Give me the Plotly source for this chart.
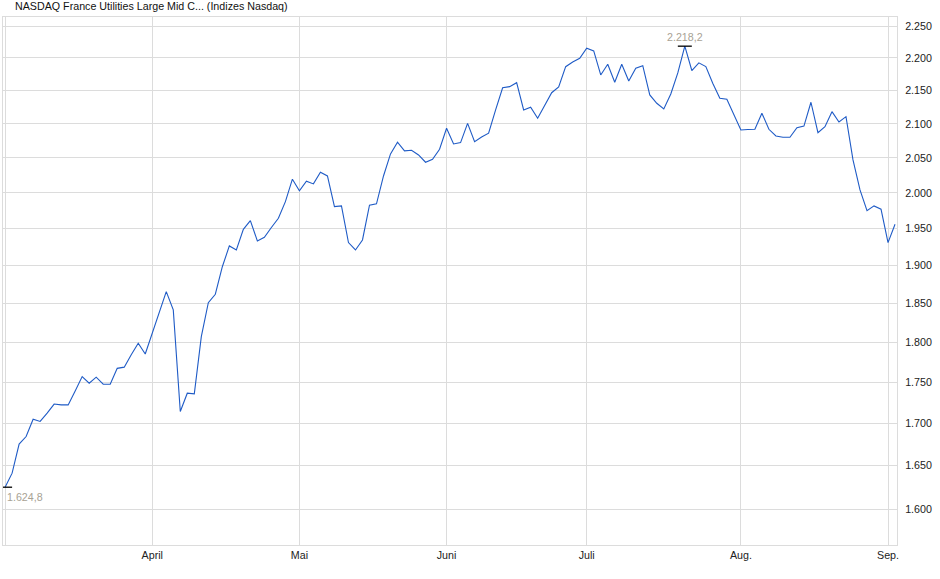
import math
import pandas as pd
import plotly.graph_objects as go

# ---- data -------------------------------------------------------------
holidays = ["2025-04-18", "2025-05-26", "2025-06-19", "2025-07-04", "2025-09-01"]
dates = [d.strftime("%Y-%m-%d") for d in
         pd.bdate_range("2025-03-03", "2025-09-03", freq="C", holidays=holidays)]

values = [
    1624.8, 1641, 1675, 1684, 1704.6, 1702, 1712, 1723, 1722, 1722,
    1739, 1756.8, 1748.5, 1756, 1747.3, 1747.3, 1767, 1768.5, 1784, 1798.5,
    1785, 1811.7, 1838.8, 1865.3, 1841.4, 1713.9, 1736.3, 1735.4, 1807, 1850.8,
    1861.9, 1898.4, 1926.5, 1921, 1949.2, 1961.2, 1933.3, 1938.3, 1951.7, 1964.5,
    1987.7, 2019.4, 2003, 2016.6, 2012.7, 2029.4, 2024, 1980.7, 1981.7, 1931,
    1921, 1934.6, 1982.7, 1984.5, 2024, 2055.7, 2072.8, 2060.1, 2061, 2054.2,
    2043.7, 2048, 2062.6, 2093.3, 2070.3, 2072.2, 2100.6, 2073.7, 2080.5, 2086,
    2120.6, 2154.1, 2155.7, 2161.8, 2120.6, 2124.6, 2108.1, 2128, 2146.5, 2155.2,
    2186.3, 2193.6, 2199.2, 2214.9, 2210.7, 2173.6, 2190, 2162.4, 2190, 2164.4,
    2183.9, 2187.9, 2143.1, 2130.6, 2122.1, 2144.6, 2176.7, 2218.2, 2180.4, 2192.2,
    2186.5, 2160.6, 2138.1, 2136.6, 2113.1, 2090.8, 2091.5, 2091.8, 2115.6, 2091.8,
    2082, 2080.1, 2080.1, 2094.2, 2096.6, 2132.1, 2086.8, 2095.6, 2118, 2102.6,
    2110.5, 2047, 2004.1, 1975.1, 1981.7, 1977, 1931, 1956.1,
]

month_ticks = ["2025-04-01", "2025-05-01", "2025-06-02", "2025-07-01", "2025-08-01", "2025-09-02"]
month_labels = ["April", "Mai", "Juni", "Juli", "Aug.", "Sep."]
y_ticks = [1600, 1650, 1700, 1750, 1800, 1850, 1900, 1950, 2000, 2050, 2100, 2150, 2200, 2250]

title_text = "NASDAQ France Utilities Large Mid C... (Indizes Nasdaq)"

# ---- figure -----------------------------------------------------------
FONT = "Liberation Sans, Arial, sans-serif"
LINE = "#1f5bc6"
GRID = "#dcdcdc"
ANN = "#a8a294"

def de(v):
    s = f"{v:,.1f}"
    return s.replace(",", "X").replace(".", ",").replace("X", ".")

i_max = max(range(len(values)), key=lambda k: values[k])
i_min = min(range(len(values)), key=lambda k: values[k])

fig = go.Figure()
fig.add_trace(go.Scatter(x=dates, y=values, mode="lines",
                         line=dict(color=LINE, width=1.1), showlegend=False,
                         hoverinfo="skip"))
fig.add_trace(go.Scatter(x=[dates[i_min], dates[i_max]],
                         y=[values[i_min], values[i_max]],
                         mode="markers", showlegend=False, hoverinfo="skip",
                         marker=dict(symbol="line-ew", size=10,
                                     line=dict(color="black", width=1.3))))

# log axis: annotation y given in log10 units
fig.add_annotation(x=dates[i_max], y=math.log10(values[i_max]), text=de(values[i_max]),
                   showarrow=False, yanchor="bottom", yshift=1,
                   font=dict(family=FONT, size=10.7, color=ANN))
fig.add_annotation(x=dates[i_min], y=math.log10(values[i_min]), text=de(values[i_min]),
                   showarrow=False, yanchor="top", xanchor="left", xshift=0, yshift=-2,
                   font=dict(family=FONT, size=10.7, color=ANN))

# legend-like header
fig.add_shape(type="rect", xref="paper", yref="paper",
              x0=-0.0003, x1=0.0086, y0=1.0663, y1=1.0801,
              line=dict(color="#333333", width=1), fillcolor="#1a4fb5")
fig.add_annotation(xref="paper", yref="paper", x=0.0113, y=1.0199,
                   xanchor="left", yanchor="middle", showarrow=False,
                   text=title_text, font=dict(family=FONT, size=10.7, color="#111111"))

fig.update_layout(
    width=940, height=579,
    margin=dict(l=3, r=43, t=17, b=34),
    paper_bgcolor="white", plot_bgcolor="white",
    separators=",.",
    font=dict(family=FONT, size=10.7, color="#222222"),
    xaxis=dict(type="category", range=[-0.3, 127.28],
               tickmode="array", tickvals=[dates[0]] + month_ticks,
               ticktext=[""] + month_labels,
               showgrid=True, gridcolor=GRID, gridwidth=1,
               showline=True, linecolor=GRID, mirror=True,
               ticks="", tickangle=0, zeroline=False),
    yaxis=dict(type="log", side="right",
               range=[3.193084, 3.354942],
               tickmode="array", tickvals=y_ticks, tickformat=",d",
               ticklabelstandoff=5,
               showgrid=True, gridcolor=GRID, gridwidth=1,
               showline=True, linecolor=GRID, mirror=True,
               ticks="", zeroline=False),
)

fig.write_html("out.html", config={"displayModeBar": False},
               post_script="document.body.style.margin='0';")
